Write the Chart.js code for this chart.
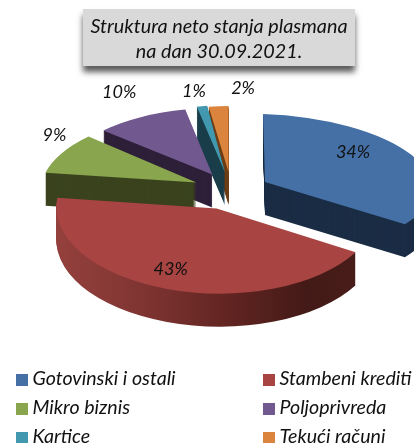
<!DOCTYPE html>
<html><head><meta charset="utf-8">
<style>html,body{margin:0;padding:0;background:#fff;overflow:hidden}#w{position:relative;width:414px;height:443px}</style>
<script src="https://cdn.jsdelivr.net/npm/chart.js@4"></script>
</head><body><div id="w"><canvas id="c" width="414" height="443"></canvas></div>
<script>
const categories=['Gotovinski i ostali','Stambeni krediti','Mikro biznis','Poljoprivreda','Kartice','Tekući računi'];
const values=[34,43,9,10,1,2];
const titleLines=['Struktura neto stanja plasmana','na dan 30.09.2021.'];
const topColors=['#4470a6','#a84442','#89a54e','#71588f','#4198af','#db843d'];
const wallColors=['#1b2d45',null,'#3a431d','#2e2039','#1a3e4a','#6d3f17'];
const redWallStops=[[0,'#94403d'],[.25,'#7e3431'],[.5,'#622522'],[.75,'#431a17'],[1,'#4a1d1a']];
// view transforms standing in for the 3D perspective of each exploded slice
const views=[[166.7,2,5.3,68],[160,10.4,-4,85],[154.8,-8.6,-2.3,70.3],[149.5,-1.3,-1.4,66.4],[164,-3,0,67],[157,0,0,66]];
const labelShift=[[88,-30],[-46,61],[-142,-47],[-93,-82],[-31,-81],[14.5,-84]];
const paintOrder=[5,4,3,2,0,1];
const R=164,EXPLODE=38.6,SQUASH=.49,CX=231,CY=191,DEPTH=33;
const FONT='"Lato"';
const titleBox={x:83,y:9,w:272,h:57};
const legendCols=[16,263],legendRows=[374,403,432],legendSize=12;

const apexOf=el=>{const m=(el.startAngle+el.endAngle)/2;return [CX+EXPLODE*Math.cos(m),CY+EXPLODE*SQUASH*Math.sin(m)];};

const pie3d={id:'pie3d',
 beforeDraw(chart){const c=chart.ctx,b=titleBox;c.save();
  c.shadowColor='rgba(0,0,0,.65)';c.shadowBlur=6;c.shadowOffsetY=6;c.fillStyle='#d9d9d9';c.fillRect(b.x,b.y,b.w,b.h);c.restore();},
 beforeDatasetDraw(){return false;},
 afterDatasetsDraw(chart){
  const c=chart.ctx,arcs=chart.getDatasetMeta(0).data;
  paintOrder.forEach(i=>{
   const el=arcs[i],[ax,ay]=apexOf(el),v=views[i];
   const place=dy=>{c.translate(ax,ay+dy);c.transform(v[0]/R,v[2]/R,v[1]/R,v[3]/R,0,0);c.translate(-el.x,-el.y);};
   let wallFill=wallColors[i];
   if(!wallFill){wallFill=c.createLinearGradient(el.x-R,0,el.x+R,0);redWallStops.forEach(s=>wallFill.addColorStop(s[0],s[1]));}
   const wall=Object.create(el);wall.options=Object.assign({},el.options,{backgroundColor:wallFill,borderWidth:0});
   for(let k=DEPTH;k>=1;k--){c.save();place(k);wall.draw(c);c.restore();}
   c.save();place(0);el.draw(c);c.restore();
  });
  c.save();c.font='italic 18px '+FONT;c.fillStyle='#111';c.textAlign='center';c.textBaseline='middle';
  arcs.forEach((el,i)=>{const [ax,ay]=apexOf(el);c.fillText(values[i]+'%',ax+labelShift[i][0],ay+labelShift[i][1]);});
  c.restore();
 },
 afterDraw(chart){
  const c=chart.ctx;c.save();c.font='italic 19.6px '+FONT;c.textBaseline='alphabetic';c.textAlign='left';
  categories.forEach((t,i)=>{const x=legendCols[i%2],y=legendRows[i>>1];
   c.fillStyle=topColors[i];c.fillRect(x,y,legendSize,legendSize);
   c.fillStyle='#111';c.fillText(t,x+16.5,y+11);});
  c.restore();
 }};

new Chart(document.getElementById('c'),{type:'pie',plugins:[pie3d],
 data:{labels:categories,datasets:[{data:values,backgroundColor:topColors,borderWidth:0,hoverOffset:0}]},
 options:{responsive:false,animation:false,radius:R,rotation:0,
  layout:{padding:{left:24}},
  plugins:{legend:{display:false},tooltip:{enabled:false},
   title:{display:true,text:titleLines,color:'#111',padding:{top:15,bottom:4},
    font:{family:FONT,style:'italic',weight:'normal',size:19.8,lineHeight:1.22}}}}});
</script></body></html>
